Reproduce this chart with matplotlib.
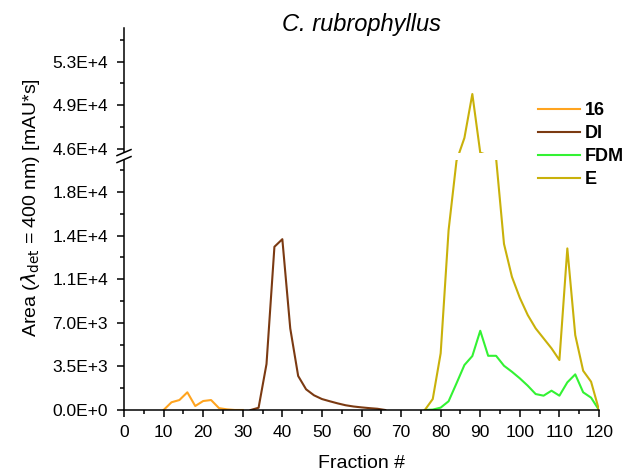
import numpy as np
import matplotlib
matplotlib.use("Agg")
import matplotlib.pyplot as plt
from matplotlib.ticker import FixedLocator

plt.rcParams["font.family"] = ["Liberation Sans", "DejaVu Sans"]

# fraction numbers and peak areas (mAU*s) per extract
frac_16 = [10, 12, 14, 16, 18, 20, 22, 24, 26, 28, 30]
area_16 = [0, 620, 800, 1420, 320, 720, 800, 150, 50, 0, 0]

frac_di = list(range(32, 67, 2))
area_di = [0, 180, 3690, 13100, 13710, 6550, 2730, 1660, 1180, 880,
           700, 530, 380, 280, 210, 150, 100, 0]

frac_fdm = list(range(76, 121, 2))
area_fdm = [0, 30, 190, 700, 2140, 3610, 4330, 6360, 4350, 4350, 3550,
            3070, 2540, 1950, 1280, 1150, 1550, 1150, 2220, 2860, 1420, 990, 0]

frac_e = list(range(76, 121, 2))
area_e = [0, 880, 4550, 14430, 20000, 46380, 49900, 45000, 35000, 25000,
          13330, 10690, 9000, 7620, 6550, 5750, 4950, 4010, 12970, 6010,
          3150, 2270, 0]

series = [("16", frac_16, area_16, "#FFA41F"),
          ("DI", frac_di, area_di, "#7B3A12"),
          ("FDM", frac_fdm, area_fdm, "#33F233"),
          ("E", frac_e, area_e, "#C9B10A")]

y_ticks = [0, 3500, 7000, 10500, 14000, 17500, 45500, 49000, 52500]
y_tick_labels = ["0.0E+0", "3.5E+3", "7.0E+3", "1.1E+4", "1.4E+4", "1.8E+4",
                 "4.6E+4", "4.9E+4", "5.3E+4"]
y_minor = [1750, 5250, 8750, 12250, 15750, 19250, 47250, 50750, 54250]

# broken y scale: 0..LO and HI..top, the gap squeezed into a few units
LO, HI, GAP = 20100, 45200, 560
YTOP = 55200


def fwd(y):
    y = np.asarray(y, dtype=float)
    return np.where(y <= LO, y,
                    np.where(y >= HI, y - HI + LO + GAP,
                             LO + (y - LO) * GAP / (HI - LO)))


def inv(t):
    t = np.asarray(t, dtype=float)
    return np.where(t <= LO, t,
                    np.where(t >= LO + GAP, t - LO - GAP + HI,
                             LO + (t - LO) * (HI - LO) / GAP))


fig = plt.figure(figsize=(6.25, 4.71), dpi=100)
ax = fig.add_axes([124 / 625, 1 - 410 / 471, 475 / 625, 382 / 471])
ax.set_yscale("function", functions=(fwd, inv))

for name, x, y, c in series:
    ax.plot(x, y, color=c, lw=1.5, label=name, zorder=2)

ax.set_xlim(0, 120)
ax.set_ylim(0, YTOP)

# blank out the gap band, spine included
ax.axhspan(LO, HI, xmin=-0.02, xmax=1.0, color="white", zorder=3,
           clip_on=False, lw=0)

# break marks on the y axis
gap_lo = fwd(LO) / fwd(YTOP)
gap_hi = fwd(HI) / fwd(YTOP)
dx, dy = 7 / 475, 3 / 382
for yy in (gap_lo, gap_hi):
    ax.plot([-dx, dx], [yy - dy, yy + dy], color="black", lw=1.1,
            transform=ax.transAxes, clip_on=False, zorder=4)

ax.spines["top"].set_visible(False)
ax.spines["right"].set_visible(False)
for s in ("left", "bottom"):
    ax.spines[s].set_linewidth(1.1)

ax.set_xticks(range(0, 121, 10))
ax.xaxis.set_minor_locator(FixedLocator(range(5, 120, 10)))
ax.set_yticks(y_ticks)
ax.set_yticklabels(y_tick_labels)
ax.yaxis.set_minor_locator(FixedLocator(y_minor))
ax.yaxis.set_minor_formatter(plt.NullFormatter())
ax.tick_params(which="both", direction="out", width=1.1, labelsize=12.5)
ax.tick_params(which="major", length=5)
ax.tick_params(which="minor", length=3)
ax.tick_params(axis="x", pad=5.5)
ax.tick_params(axis="y", pad=6.5)

ax.set_xlabel("Fraction #", fontsize=14, labelpad=11)
ax.set_ylabel(r"Area ($\lambda_{\rm det}$ = 400 nm) [mAU*s]", fontsize=14)
ax.yaxis.set_label_coords(-0.172, 0.53)
fig.text(361.5 / 625, 1 - 25 / 471, "C. rubrophyllus", fontsize=17,
         style="italic", ha="center", va="center")

ax.legend(loc="upper left", bbox_to_anchor=(538 / 625, 1 - 102 / 471),
          bbox_transform=fig.transFigure, frameon=False,
          prop={"weight": "bold", "size": 13}, handlelength=2.3,
          handletextpad=0.3, labelspacing=0.33, borderpad=0, borderaxespad=0)

fig.savefig("out.png", dpi=100)
